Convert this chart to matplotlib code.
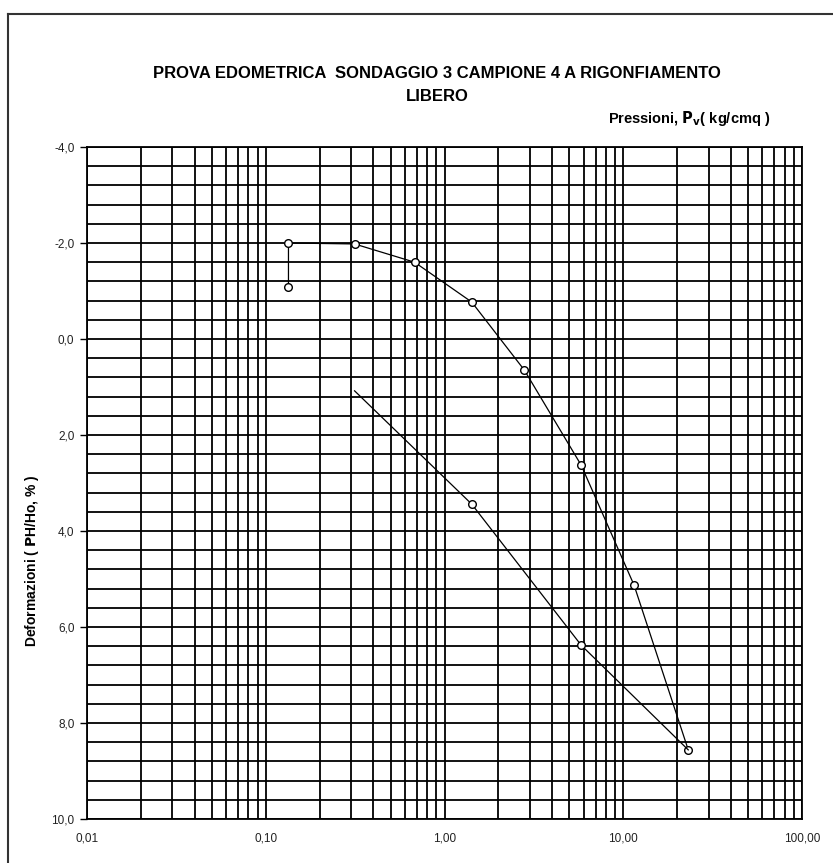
import numpy as np
import matplotlib.pyplot as plt
from matplotlib.ticker import LogLocator, MultipleLocator, FixedLocator, FuncFormatter, NullFormatter
from matplotlib.lines import Line2D

plt.rcParams['font.family'] = ['Liberation Sans', 'DejaVu Sans']

# loading branch (pressure kg/cmq, deformation %)
load_p = [0.134, 0.134, 0.314, 0.68, 1.42, 2.80, 5.82, 11.5, 23.1]
load_d = [-1.08, -2.0, -1.98, -1.6, -0.77, 0.65, 2.63, 5.13, 8.56]
# unloading branch
unload_p = [23.1, 5.82, 1.42, 0.314]
unload_d = [8.56, 6.38, 3.44, 1.08]

title = "PROVA EDOMETRICA  SONDAGGIO 3 CAMPIONE 4 A RIGONFIAMENTO\nLIBERO"
xlabel = r"Pressioni, $\mathbf{P_v}$( kg/cmq )"
ylabel = r"Deformazioni ( $\mathbf{P}$H/Ho, % )"
x_ticks = [0.01, 0.1, 1, 10, 100]
y_ticks = [-4, -2, 0, 2, 4, 6, 8, 10]

fig = plt.figure(figsize=(8.33, 8.63), dpi=100)

# outer frame (cut off at right and bottom)
fig.add_artist(Line2D([8/833, 8/833], [0, 1 - 14/863], color='#333333', lw=1.5, transform=fig.transFigure))
fig.add_artist(Line2D([8/833, 1], [1 - 14/863, 1 - 14/863], color='#333333', lw=1.5, transform=fig.transFigure))

ax = fig.add_axes([87/833, 1 - 819/863, (802 - 87)/833, (819 - 147)/863])
ax.set_xscale('log')
ax.set_xlim(0.01, 100)
ax.set_ylim(10, -4)

ax.xaxis.set_major_locator(FixedLocator(x_ticks))
ax.xaxis.set_minor_locator(LogLocator(base=10, subs=np.arange(2, 10)))
ax.xaxis.set_major_formatter(FuncFormatter(lambda v, p: f"{v:.2f}".replace('.', ',')))
ax.xaxis.set_minor_formatter(NullFormatter())
ax.yaxis.set_major_locator(FixedLocator(y_ticks))
ax.yaxis.set_minor_locator(MultipleLocator(0.4))
ax.yaxis.set_major_formatter(FuncFormatter(lambda v, p: f"{v:.1f}".replace('.', ',')))

ax.grid(True, which='both', color='black', lw=1.3)
ax.tick_params(axis='x', which='both', length=0, pad=10, labelsize=8.5, labelcolor='#222222')
ax.tick_params(axis='y', which='major', length=5, width=1, pad=4, labelsize=8.5, labelcolor='#222222')
ax.tick_params(axis='y', which='minor', length=0)
for s in ax.spines.values():
    s.set_linewidth(1.3)

ax.plot(load_p, load_d, color='black', lw=0.9, marker='o', ms=5.5,
        mfc='white', mec='black', mew=1, zorder=5)
ax.plot(unload_p, unload_d, color='black', lw=0.9, zorder=5)
ax.plot(unload_p[1:-1], unload_d[1:-1], ls='none', marker='o', ms=5.5,
        mfc='white', mec='black', mew=1, zorder=6)

fig.text(437/833, 1 - 85/863, title, ha='center', va='center', fontsize=12,
         fontweight='bold', linespacing=1.65)
fig.text(770/833, 1 - 118/863, xlabel, ha='right', va='center', fontsize=10.5,
         fontweight='bold')
fig.text(32/833, 1 - 561/863, ylabel, ha='center', va='center', fontsize=10,
         fontweight='bold', rotation=90)

fig.savefig('out.png', dpi=100)
